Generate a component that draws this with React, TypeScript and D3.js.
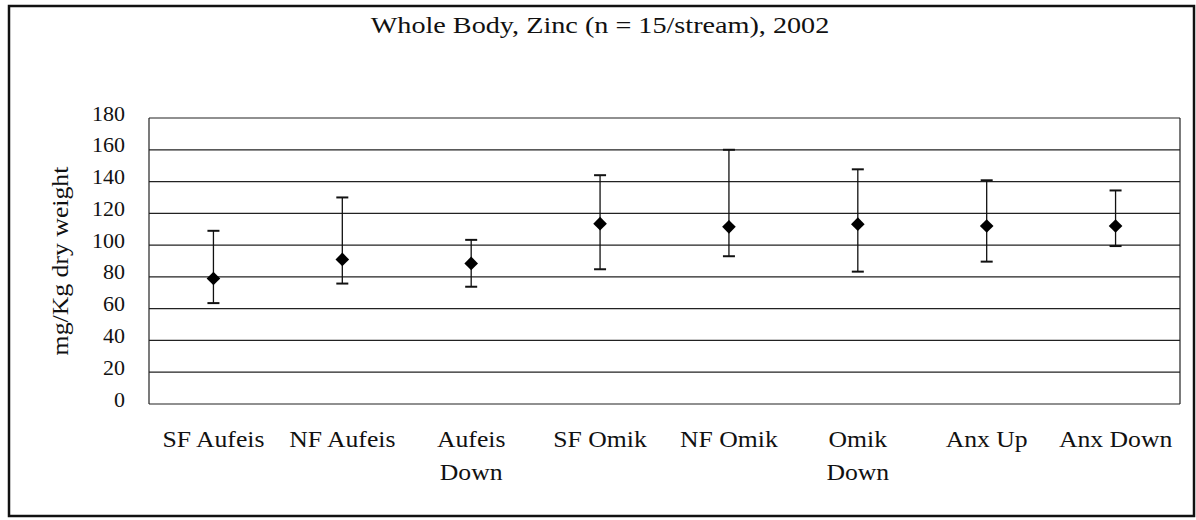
import React from "react";
import * as d3 from "d3";

const categories = ["SF Aufeis", "NF Aufeis", "Aufeis Down", "SF Omik", "NF Omik", "Omik Down", "Anx Up", "Anx Down"];
const means = [79, 91, 88.5, 113.5, 111.5, 113.2, 112, 112];
const upper = [109, 130, 103.3, 144, 160, 147.7, 140.8, 134.4];
const lower = [63.5, 75.8, 73.8, 84.8, 93, 83.3, 89.6, 99.4];
const yTicks = [0, 20, 40, 60, 80, 100, 120, 140, 160, 180];
const title = "Whole Body, Zinc (n = 15/stream), 2002";
const yTitle = "mg/Kg dry weight";

const W = 1196;
const H = 520;
const FONT = "'Liberation Serif', 'Times New Roman', serif";
const LABEL_FS = 24;
const LABEL_SX = 1.07;

function wrapLabel(label: string, maxW: number): string[] {
  const canvas = document.createElement("canvas");
  const ctx = canvas.getContext("2d");
  if (!ctx) return [label];
  ctx.font = `${LABEL_FS}px 'Liberation Serif'`;
  const w = ctx.measureText(label).width * LABEL_SX;
  if (w <= maxW) return [label];
  const words = label.split(" ");
  const lines: string[] = [];
  let cur = "";
  for (const word of words) {
    const t = cur ? cur + " " + word : word;
    if (cur && ctx.measureText(t).width * LABEL_SX > maxW) {
      lines.push(cur);
      cur = word;
    } else cur = t;
  }
  if (cur) lines.push(cur);
  return lines;
}

export default function App() {
  const left = 149, right = 1180, top = 118, bottom = 404;
  const x = d3.scaleBand<string>().domain(categories).range([left, right]);
  const y = d3.scaleLinear().domain([0, 180]).range([bottom, top]);
  const bw = x.bandwidth();
  const cap = 6;
  const dm = 6.8;

  return (
    <svg width={W} height={H} style={{ position: "absolute", left: 0, top: 0, background: "#fff" }} fontFamily={FONT}>
      <rect x={0} y={0} width={W} height={H} fill="#fff" />
      <rect x={9} y={6} width={1185} height={510} fill="none" stroke="#111" strokeWidth={2.5} />
      <g transform={`translate(${W / 2 + 2},33) scale(1.2,1)`}>
        <text textAnchor="middle" fontSize={23.5} fill="#111">{title}</text>
      </g>
      {/* gridlines */}
      {yTicks.map((t) => (
        <line key={"g" + t} x1={left} x2={right} y1={y(t)} y2={y(t)} stroke="#222" strokeWidth={1.2} />
      ))}
      <line x1={left} x2={left} y1={top} y2={bottom} stroke="#222" strokeWidth={1.2} />
      <line x1={right} x2={right} y1={top} y2={bottom} stroke="#222" strokeWidth={1.2} />
      {/* y tick labels */}
      {yTicks.map((t) => (
        <text key={"t" + t} x={125} y={y(t) - 5} textAnchor="end" dominantBaseline="central" fontSize={22} fill="#111">
          {t}
        </text>
      ))}
      <g transform={`translate(60,${(top + bottom) / 2}) rotate(-90) scale(1.12,1)`}>
        <text textAnchor="middle" dominantBaseline="central" fontSize={23} fill="#111">{yTitle}</text>
      </g>
      {/* category labels */}
      {categories.map((c) => {
        const lines = wrapLabel(c, bw * 0.97);
        const cx = (x(c) as number) + bw / 2;
        return (
          <g key={"c" + c} transform={`translate(${cx},447) scale(${LABEL_SX},1)`}>
            {lines.map((l, i) => (
              <text key={i} x={0} y={i * 33} textAnchor="middle" fontSize={LABEL_FS} fill="#111">
                {l}
              </text>
            ))}
          </g>
        );
      })}
      {/* error bars and points */}
      {categories.map((c, i) => {
        const cx = (x(c) as number) + bw / 2;
        const ym = y(means[i]);
        return (
          <g key={"e" + c}>
            <line x1={cx} x2={cx} y1={y(upper[i])} y2={y(lower[i])} stroke="#111" strokeWidth={1.3} />
            <line x1={cx - cap} x2={cx + cap} y1={y(upper[i])} y2={y(upper[i])} stroke="#111" strokeWidth={2} />
            <line x1={cx - cap} x2={cx + cap} y1={y(lower[i])} y2={y(lower[i])} stroke="#111" strokeWidth={2} />
            <path d={`M${cx},${ym - dm}L${cx + dm},${ym}L${cx},${ym + dm}L${cx - dm},${ym}Z`} fill="#000" />
          </g>
        );
      })}
    </svg>
  );
}
